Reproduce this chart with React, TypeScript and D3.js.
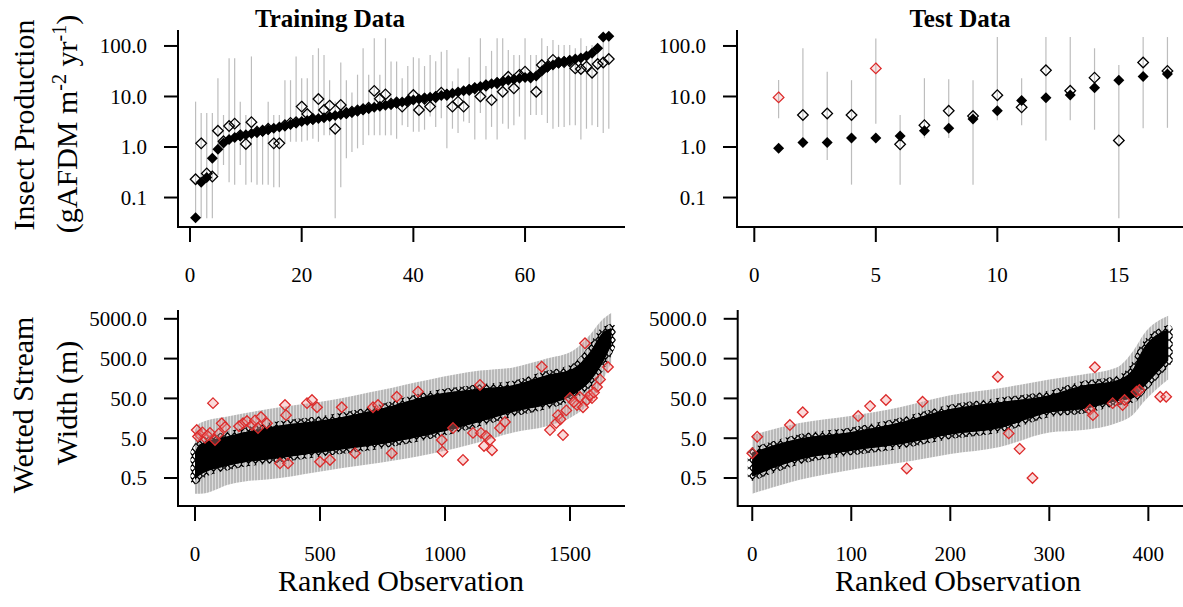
import React from "react";
import * as d3 from "d3";

// ---------------- DATA ----------------
// Training data (top-left): ranked by predicted production
const trainPred = [0.04, 0.2, 0.25, 0.6, 0.9, 1.2, 1.4, 1.55, 1.65, 1.75, 1.85, 1.95, 2.05, 2.2, 2.35, 2.5, 2.6, 2.8, 3.0, 3.2,
  3.35, 3.5, 3.65, 3.8, 4.0, 4.2, 4.4, 4.6, 4.9, 5.2, 5.5, 5.8, 6.1, 6.4, 6.7, 7.0, 7.4, 7.8, 8.2, 8.5,
  8.9, 9.3, 9.7, 10.0, 10.5, 11.0, 11.6, 12.2, 13.0, 13.8, 14.8, 15.8, 16.8, 17.8, 18.8, 19.8, 21, 22, 23, 23.8,
  24.5, 25.5, 32, 38, 42, 46, 49, 52, 55, 58, 63, 72, 90, 150, 155];
const trainObs = [0.23, 1.18, 0.3, 0.26, 2.1, 1.3, 2.6, 2.9, 1.7, 1.15, 3.1, 2.0, 2.1, 2.3, 1.18, 1.18, 2.7, 3.0, 3.1, 6.3,
  4.5, 3.6, 8.9, 5.4, 6.6, 2.3, 6.8, 4.7, 5.0, 5.3, 5.6, 6.0, 12.9, 9.0, 11.0, 7.2, 7.6, 6.3, 8.0, 10.7,
  5.4, 9.0, 6.3, 9.8, 11.9, 10.8, 6.3, 7.9, 6.3, 13.5, 14.5, 10.0, 16.5, 8.5, 18.5, 12.4, 24.6, 14.5, 26.8, 31,
  24, 12.4, 42, 39, 53, 47, 48, 50, 36, 35, 39, 29.6, 44, 47, 55];
const trainLo = [0.036, 0.039, 0.039, 0.039, 0.28, 0.44, 0.2, 0.18, 0.44, 0.18, 0.2, 0.18, 0.18, 0.18, 0.16, 0.16, 1.18, 1.27, 1.27, 1.27,
  1.35, 1.45, 1.27, 1.7, 1.7, 0.039, 0.16, 0.6, 0.8, 0.94, 1.1, 1.7, 1.7, 1.7, 1.7, 1.7, 1.45, 2.7, 2.5, 2.0,
  2.0, 2.2, 4.0, 2.5, 3.7, 0.94, 2.3, 1.9, 3.2, 3.0, 1.4, 4.7, 1.4, 2.5, 1.4, 2.9, 2.3, 2.7, 4.0, 1.4,
  4.3, 4.3, 4.3, 3.0, 2.3, 2.5, 2.5, 2.7, 2.7, 1.4, 2.3, 2.7, 2.5, 1.9, 2.3];
const trainHi = [7.9, 4.7, 4.7, 4.7, 23, 4.3, 57, 57, 7.9, 4.3, 62, 2.7, 2.7, 7.9, 4.3, 4.3, 21, 21, 62, 23,
  23, 66, 90, 66, 21, 8, 47, 21, 12, 27, 90, 27, 142, 27, 142, 49, 49, 23, 40, 60,
  57, 40, 66, 50, 77, 83, 20, 36, 10.7, 60, 17, 142, 40, 80, 142, 142, 83, 66, 66, 142,
  66, 66, 142, 100, 131, 105, 105, 105, 90, 142, 100, 105, 105, 142, 142];

// Test data (top-right)
const testPred = [0.94, 1.23, 1.23, 1.5, 1.5, 1.65, 2.1, 2.35, 3.6, 5.2, 8.3, 9.4, 10.7, 14.9, 21, 25, 28];
const testObs = [9.6, 4.3, 4.6, 4.3, 36, 1.13, 2.7, 5.2, 4.1, 10.6, 6.1, 33, 13, 23.6, 1.35, 47, 32];
const testLo = [3.7, 1.18, 0.55, 0.18, 2.9, 0.18, 1.5, 1.5, 0.18, 3.4, 2.7, 1.35, 3.4, 2.2, 0.039, 2.35, 2.4];
const testHi = [21.2, 90, 31, 21, 140, 4.3, 23, 22, 21, 150, 23, 150, 150, 90, 42, 150, 150];
const testRed = [1, 5];

// Wetted stream width, training (bottom-left): envelope of ranked predictions
const wTrainRank = [0, 20, 140, 340, 540, 740, 940, 1140, 1273, 1407, 1513, 1580, 1633, 1665];
const wTrainLo = [0.45, 0.6, 1.05, 1.6, 2.4, 3.5, 6.2, 13, 23, 35, 62, 135, 420, 1100];
const wTrainHi = [2.2, 3.5, 5.8, 10.4, 15, 27, 59, 87, 107, 190, 280, 730, 2300, 2900];
const wTrainGreyLo = [0.2, 0.2, 0.35, 0.5, 0.8, 1.2, 2, 4, 7, 10, 18, 40, 150, 400];
const wTrainGreyHi = [8, 12, 18, 30, 45, 80, 150, 250, 300, 500, 800, 2000, 5000, 7000];
const wTrainRedRank = [72, 7, 20, 40, 60, 80, 107, 192, 208, 228, 264, 288, 340, 372, 360, 364, 448, 468, 488, 500,
  540, 587, 640, 712, 732, 787, 807, 892, 987, 990, 1032, 1072, 1112, 1144, 1156, 1188, 1140, 1164, 1180, 1220,
  1240, 1387, 1452, 1472, 1500, 1528, 1540, 1552, 1568, 1588, 1560, 1608, 1652,
  12, 30, 50, 95, 120, 176, 240, 252, 1420, 1445, 1462, 1485, 1515, 1580, 1596, 1620];
const wTrainRedVal = [38, 8.0, 6.0, 5.1, 6.8, 4.5, 11.8, 11.9, 13.5, 10.7, 17, 11.9, 1.17, 1.17, 34, 19, 38, 45.6, 30, 1.28,
  1.42, 30, 2.1, 30, 34, 2.1, 55, 74, 4.5, 2.3, 9.0, 1.42, 6.8, 6.8, 3.2, 2.5, 109, 5.7, 4.5, 9.0,
  12.8, 313, 19, 6.0, 51, 34, 54, 30, 45.6, 51, 1210, 97, 308,
  5.5, 7.0, 5.8, 6.5, 9.5, 10, 14, 9, 8, 12, 15, 25, 40, 60, 70, 150];

// Wetted stream width, test (bottom-right)
const wTestRank = [0, 48, 99, 149, 200, 250, 300, 334, 368, 385, 395, 420];
const wTestLo = [0.55, 1.45, 2.4, 3.5, 6.2, 9.0, 22, 27, 43, 52, 95, 450];
const wTestHi = [2.2, 4.9, 7.1, 12.4, 27, 40, 60, 105, 140, 280, 880, 2700];
const wTestGreyLo = [0.2, 0.45, 0.8, 1.2, 2, 3, 7, 8, 12, 20, 40, 150];
const wTestGreyHi = [6, 12, 18, 30, 60, 90, 150, 200, 300, 800, 2000, 6000];
const wTestRedRank = [0, 5, 38, 51, 107, 119, 135, 156, 172, 248, 259, 270, 283, 346, 341, 344, 364, 374, 376, 388, 391, 412, 418];
const wTestRedVal = [2.1, 5.45, 10.7, 22.4, 18, 32, 45.6, 0.87, 41, 175, 6.6, 2.7, 0.5, 302, 26, 19, 38, 34, 45.6, 74, 81, 55, 55];

const topYTicks = [0.1, 1, 10, 100];
const botYTicks = [0.5, 5, 50, 500, 5000];
const trainXTicks = [0, 20, 40, 60];
const testXTicks = [0, 5, 10, 15];
const wTrainXTicks = [0, 500, 1000, 1500];
const wTestXTicks = [0, 100, 200, 300, 400];

// ---------------- DRAWING ----------------
const FONT = "'Liberation Serif','Times New Roman',Times,serif";
const RED = "#dc2a2a";
const GREY = "#bdbdbd";

const diamond = (cx: number, cy: number, r: number) =>
  `M${cx},${cy - r}L${cx + r},${cy}L${cx},${cy + r}L${cx - r},${cy}Z`;

type Box = { l: number; r: number; t: number; b: number };

function Axes({ box, x, y, xt, yt, yfmt }: any) {
  return (
    <g>
      <path d={`M${box.l},${box.t}V${box.b}H${box.r}`} fill="none" stroke="#000" strokeWidth={2} />
      {yt.map((v: number) => (
        <g key={"y" + v}>
          <line x1={box.l - 14} x2={box.l} y1={y(v)} y2={y(v)} stroke="#000" strokeWidth={2} />
          <text x={box.l - 31} y={y(v)} dy="0.35em" textAnchor="end" fontSize={21} fontFamily={FONT}>
            {yfmt(v)}
          </text>
        </g>
      ))}
      {xt.map((v: number) => (
        <g key={"x" + v}>
          <line x1={x(v)} x2={x(v)} y1={box.b} y2={box.b + 15} stroke="#000" strokeWidth={2} />
          <text x={x(v)} y={box.b + 55} textAnchor="middle" fontSize={21} fontFamily={FONT}>
            {v}
          </text>
        </g>
      ))}
    </g>
  );
}

function TopPanel({ box, xDomain, pred, obs, lo, hi, red, xt }: any) {
  const x = d3.scaleLinear().domain(xDomain).range([box.l, box.r]);
  const y = d3.scaleLog().domain([0.0261, 207]).range([box.b, box.t]);
  const fmt = d3.format(".1f");
  return (
    <g>
      {pred.map((_: number, i: number) => (
        <line key={"e" + i} x1={x(i + 1)} x2={x(i + 1)} y1={y(lo[i])} y2={y(hi[i])} stroke={GREY} strokeWidth={1.2} />
      ))}
      {obs.map((v: number, i: number) => {
        const isRed = red.includes(i + 1);
        return (
          <path key={"o" + i} d={diamond(x(i + 1), y(v), 5.3)} fill={isRed ? "rgba(240,150,150,0.25)" : "none"}
            stroke={isRed ? RED : "#000"} strokeWidth={1.3} />
        );
      })}
      {pred.map((v: number, i: number) => (
        <path key={"p" + i} d={diamond(x(i + 1), y(v), 5.5)} fill="#000" />
      ))}
      <Axes box={box} x={x} y={y} xt={xt} yt={topYTicks} yfmt={fmt} />
    </g>
  );
}

function BottomPanel({ box, xDomain, rank, lo, hi, glo, ghi, redRank, redVal, xt }: any) {
  const x = d3.scaleLinear().domain(xDomain).range([box.l, box.r]);
  const y = d3.scaleLog().domain([0.099, 8318]).range([box.b, box.t]);
  const fmt = d3.format(".1f");
  const idx = d3.range(rank.length);
  const greyArea = d3.area<number>().x((i) => x(rank[i])).y0((i) => y(glo[i])).y1((i) => y(ghi[i])).curve(d3.curveMonotoneX)(idx) as string;
  const blackArea = d3.area<number>().x((i) => x(rank[i])).y0((i) => y(lo[i])).y1((i) => y(hi[i])).curve(d3.curveMonotoneX)(idx) as string;
  return (
    <g>
      <path d={greyArea} fill="url(#greyStripes)" />
      <path d={blackArea} fill="#000" stroke="url(#diamondTex)" strokeWidth={9} strokeLinejoin="round" />
      <path d={blackArea} fill="#000" />
      {redRank.map((r: number, i: number) => (
        <path key={"r" + i} d={diamond(x(r), y(redVal[i]), 5.3)} fill="rgba(240,150,150,0.35)" stroke={RED} strokeWidth={1.3} />
      ))}
      <Axes box={box} x={x} y={y} xt={xt} yt={botYTicks} yfmt={fmt} />
    </g>
  );
}

export default function App() {
  const TL: Box = { l: 178, r: 625, t: 30, b: 227 };
  const TR: Box = { l: 737, r: 1183, t: 30, b: 227 };
  const BL: Box = { l: 178, r: 625, t: 310, b: 506 };
  const BR: Box = { l: 737.7, r: 1183, t: 310, b: 506 };
  return (
    <svg width={1183} height={607} style={{ position: "absolute", left: 0, top: 0, background: "#fff" }}>
      <defs>
        <pattern id="greyStripes" width={3} height={6} patternUnits="userSpaceOnUse">
          <rect x={0} y={0} width={2} height={6} fill="#b9b9b9" />
          <rect x={2} y={0} width={1} height={6} fill="#dcdcdc" />
        </pattern>
        <pattern id="diamondTex" width={7} height={8} patternUnits="userSpaceOnUse">
          <path d="M3.5,0.6L6.4,4L3.5,7.4L0.6,4Z" fill="none" stroke="#000" strokeWidth={1.3} />
        </pattern>
      </defs>
      <rect width={1183} height={607} fill="#fff" />
      <text x={330} y={27} textAnchor="middle" fontSize={25} fontWeight="bold" fontFamily={FONT}>Training Data</text>
      <text x={960} y={27} textAnchor="middle" fontSize={25} fontWeight="bold" fontFamily={FONT}>Test Data</text>

      <TopPanel box={TL} xDomain={[-2.15, 77.9]} pred={trainPred} obs={trainObs} lo={trainLo} hi={trainHi} red={[]} xt={trainXTicks} />
      <TopPanel box={TR} xDomain={[-0.712, 17.64]} pred={testPred} obs={testObs} lo={testLo} hi={testHi} red={testRed} xt={testXTicks} />
      <BottomPanel box={BL} xDomain={[-68, 1720]} rank={wTrainRank} lo={wTrainLo} hi={wTrainHi} glo={wTrainGreyLo} ghi={wTrainGreyHi}
        redRank={wTrainRedRank} redVal={wTrainRedVal} xt={wTrainXTicks} />
      <BottomPanel box={BR} xDomain={[-14.7, 435]} rank={wTestRank} lo={wTestLo} hi={wTestHi} glo={wTestGreyLo} ghi={wTestGreyHi}
        redRank={wTestRedRank} redVal={wTestRedVal} xt={wTestXTicks} />

      <g transform="translate(34,125) rotate(-90)">
        <text textAnchor="middle" fontSize={30} fontFamily={FONT}>Insect Production</text>
      </g>
      <g transform="translate(77,124) rotate(-90)">
        <text textAnchor="middle" fontSize={30} fontFamily={FONT}>
          (gAFDM m<tspan dy={-11} fontSize={20}>-2</tspan><tspan dy={11}> yr</tspan><tspan dy={-11} fontSize={20}>-1</tspan><tspan dy={11}>)</tspan>
        </text>
      </g>
      <g transform="translate(33,405) rotate(-90)">
        <text textAnchor="middle" fontSize={30} fontFamily={FONT}>Wetted Stream</text>
      </g>
      <g transform="translate(77,403) rotate(-90)">
        <text textAnchor="middle" fontSize={30} fontFamily={FONT}>Width (m)</text>
      </g>
      <text x={401} y={591} textAnchor="middle" fontSize={30} fontFamily={FONT}>Ranked Observation</text>
      <text x={958} y={591} textAnchor="middle" fontSize={30} fontFamily={FONT}>Ranked Observation</text>
    </svg>
  );
}
